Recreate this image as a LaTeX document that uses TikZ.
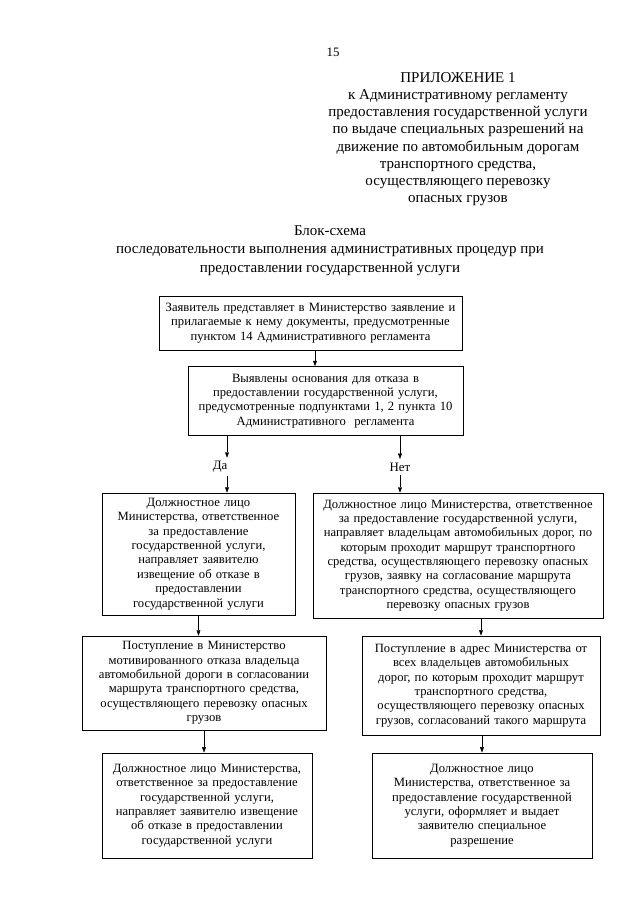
\documentclass[tikz,border=0pt]{standalone}
\usepackage{fontspec}
\setmainfont{Liberation Serif}
\usetikzlibrary{arrows.meta}

\tikzset{
  blok/.style={draw, line width=0.7pt, align=center, inner xsep=0pt, inner ysep=0pt,
    font=\fontsize{11.8}{13.4}\selectfont},
  >={Triangle[length=5pt,width=3.6pt]}
}

\begin{document}
\begin{tikzpicture}[x=0.328125mm, y=-0.328125mm]
	\useasboundingbox (0,0) rectangle (640,905);

	% Page number and appendix header
	\node[font=\fontsize{12}{14}\selectfont] (page) at (333,52) {15};
	\node[anchor=north, inner sep=0pt, align=center, font=\fontsize{14}{16.1}\selectfont] (appx) at (458,72) {ПРИЛОЖЕНИЕ 1\\
		к Административному регламенту\\
		предоставления государственной услуги\\
		по выдаче специальных разрешений на\\
		движение по автомобильным дорогам\\
		транспортного средства,\\
		осуществляющего перевозку\\
		опасных грузов};

	% Title
	\node[anchor=north, inner sep=0pt, align=center, font=\fontsize{14}{17.5}\selectfont] (title) at (330,225) {Блок-схема\\
		последовательности выполнения административных процедур при\\
		предоставлении государственной услуги};

	% Top boxes
	\node[blok, text width=99.4mm, minimum height=17.7mm] (b1) at (310.5,323) {Заявитель представляет в Министерство заявление и\\
		прилагаемые к нему документы, предусмотренные\\
		пунктом 14 Административного регламента};
	\node[blok, text width=90.2mm, minimum height=22.6mm] (b2) at (325.5,401) {Выявлены основания для отказа в\\
		предоставлении государственной услуги,\\
		предусмотренные подпунктами 1, 2 пункта 10\\
		Административного\ \ регламента};
	\draw[->] (b1.south) ++(4.5,0) coordinate (b1x) -- (b1x |- b2.north);

	% Branch labels
	\node[font=\fontsize{12}{14}\selectfont] (da) at (220,467) {Да};
	\coordinate (dax) at (227,467);
	\node[font=\fontsize{12}{14}\selectfont] (net) at (400,467) {Нет};

	% Left column
	\node[blok, text width=63.3mm, minimum height=40mm] (b3) at (198.5,554) {Должностное лицо\\
		Министерства, ответственное\\
		за предоставление\\
		государственной услуги,\\
		направляет заявителю\\
		извещение об отказе в\\
		предоставлении\\
		государственной услуги};
	\node[blok, text width=80.1mm, minimum height=30.8mm] (b5) at (204,683) {Поступление в Министерство\\
		мотивированного отказа владельца\\
		автомобильной дороги в согласовании\\
		маршрута транспортного средства,\\
		осуществляющего перевозку опасных\\
		грузов};
	\node[blok, text width=68.9mm, minimum height=34.5mm] (b7) at (207,805.5) {Должностное лицо Министерства,\\
		ответственное за предоставление\\
		государственной услуги,\\
		направляет заявителю извещение\\
		об отказе в предоставлении\\
		государственной услуги};

	% Right column
	\node[blok, text width=95.2mm, minimum height=41mm] (b4) at (458,555.5) {Должностное лицо Министерства, ответственное\\
		за предоставление государственной услуги,\\
		направляет владельцам автомобильных дорог, по\\
		которым проходит маршрут транспортного\\
		средства, осуществляющего перевозку опасных\\
		грузов, заявку на согласование маршрута\\
		транспортного средства, осуществляющего\\
		перевозку опасных грузов};
	\node[blok, text width=78.1mm, minimum height=32.5mm] (b6) at (481,685.5) {Поступление в адрес Министерства от\\
		всех владельцев автомобильных\\
		дорог, по которым проходит маршрут\\
		транспортного средства,\\
		осуществляющего перевозку опасных\\
		грузов, согласований такого маршрута};
	\node[blok, text width=72.2mm, minimum height=34.5mm] (b8) at (482,805.5) {Должностное лицо\\
		Министерства, ответственное за\\
		предоставление государственной\\
		услуги, оформляет и выдает\\
		заявителю специальное\\
		разрешение};

	% Arrows through the labels
	\draw[->] (b2.south -| dax) -- (dax |- da.north);
	\draw[->] (dax |- da.south) -- (dax |- b3.north);
	\draw[->] (b2.south -| net) -- (net.north);
	\draw[->] (net.south) -- (net |- b4.north);

	% Arrows down the columns
	\foreach \a/\b in {b3/b5, b5/b7} {
		\draw[->] (\a.south) -- (\a.south |- \b.north);
	}
	\foreach \a/\b in {b4/b6, b6/b8} {
		\draw[->] (\a.south -| \b.north) -- (\b.north);
	}
\end{tikzpicture}
\end{document}
